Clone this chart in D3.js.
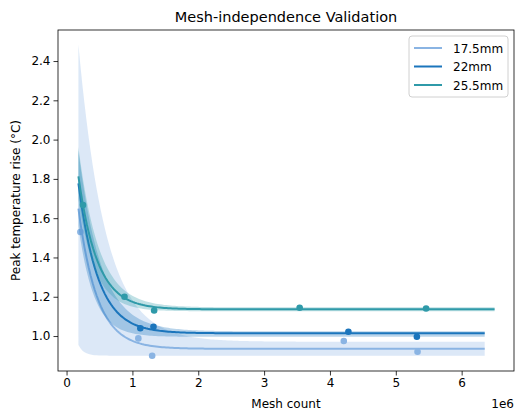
<!DOCTYPE html>
<html lang="en">
<head>
<meta charset="UTF-8">
<title>Mesh-independence Validation</title>
<script src="https://d3js.org/d3.v7.min.js"></script>
<style>
    body { margin: 0; background: white; }
    text { font-family: "DejaVu Sans", sans-serif; fill: #000; }
</style>
</head>
<body>
<script>
    // Series names and colours
    let seriesNames = ["17.5mm", "22mm", "25.5mm"];
    let colors = ["#8ab4e3", "#1b75bc", "#2f9aa9"];

    // Measured points (mesh count, peak rise)
    let meshLight = [210000, 1090000, 1300000, 4210000, 5330000];
    let riseLight = [1.53, 0.988, 0.90, 0.975, 0.92];
    let meshMid = [1120000, 1320000, 4280000, 5320000];
    let riseMid = [1.04, 1.047, 1.022, 0.996];
    let meshTeal = [250000, 880000, 1330000, 3540000, 5460000];
    let riseTeal = [1.667, 1.20, 1.13, 1.144, 1.14];

    // Fitted decay y = a*exp(-b*x/1e6) + c, and band edges
    let fitParams = [[1.34, 3.5, 0.935], [1.39, 3.33, 1.014], [1.27, 3.5, 1.136]];
    let upperParams = [[2.33, 2.4, 0.971], [1.55, 2.9, 1.024], [1.45, 3.2, 1.146]];
    let lowerParams = [[0.468, 12, 0.90], [1.2, 4.2, 0.996], [1.15, 3.9, 1.126]];
    let fitRange = [[180000, 6350000], [180000, 6350000], [180000, 6500000]];

    let xTicks = [0, 1, 2, 3, 4, 5, 6];
    let yTicks = [1.0, 1.2, 1.4, 1.6, 1.8, 2.0, 2.2, 2.4];

    let points = [
        d3.zip(meshLight, riseLight),
        d3.zip(meshMid, riseMid),
        d3.zip(meshTeal, riseTeal)
    ];

    let width = 516, height = 411;
    let m = {left: 58, right: 514, top: 30, bottom: 371};

    let svg = d3.select("body").append("svg")
        .attr("width", width)
        .attr("height", height);

    let x = d3.scaleLinear().domain([-130000, 6795000]).range([m.left, m.right]);
    let y = d3.scaleLinear().domain([0.822, 2.558]).range([m.bottom, m.top]);

    function model(p, v) {
        return p[0] * Math.exp(-p[1] * v / 1e6) + p[2];
    }

    svg.append("clipPath").attr("id", "plot")
        .append("rect")
        .attr("x", m.left).attr("y", m.top)
        .attr("width", m.right - m.left).attr("height", m.bottom - m.top);

    let plot = svg.append("g").attr("clip-path", "url(#plot)");

    seriesNames.forEach((name, i) => {
        let xs = d3.range(200).map(k => fitRange[i][0] + (fitRange[i][1] - fitRange[i][0]) * k / 199);

        plot.append("path")
            .datum(xs)
            .attr("fill", colors[i])
            .attr("fill-opacity", 0.3)
            .attr("d", d3.area()
                .x(d => x(d))
                .y0(d => y(model(lowerParams[i], d)))
                .y1(d => y(model(upperParams[i], d))));

        plot.append("path")
            .datum(xs)
            .attr("fill", "none")
            .attr("stroke", colors[i])
            .attr("stroke-width", 2)
            .attr("d", d3.line()
                .x(d => x(d))
                .y(d => y(model(fitParams[i], d))));

        plot.selectAll(null)
            .data(points[i])
            .enter().append("circle")
            .attr("cx", d => x(d[0]))
            .attr("cy", d => y(d[1]))
            .attr("r", 3.3)
            .attr("fill", colors[i]);
    });

    // Axes
    let xAxis = svg.append("g")
        .attr("transform", `translate(0,${m.bottom})`)
        .call(d3.axisBottom(x)
            .tickValues(xTicks.map(t => t * 1e6))
            .tickFormat(d => d / 1e6)
            .tickSize(4.5)
            .tickPadding(3));

    let yAxis = svg.append("g")
        .attr("transform", `translate(${m.left},0)`)
        .call(d3.axisLeft(y)
            .tickValues(yTicks)
            .tickFormat(d3.format(".1f"))
            .tickSize(4.5)
            .tickPadding(3));

    [xAxis, yAxis].forEach(a => {
        a.selectAll("text").style("font-size", "12px");
        a.select(".domain").remove();
        a.selectAll("line").attr("stroke", "#000").attr("stroke-width", 0.8);
    });

    svg.append("rect")
        .attr("x", m.left).attr("y", m.top)
        .attr("width", m.right - m.left).attr("height", m.bottom - m.top)
        .attr("fill", "none")
        .attr("stroke", "#000")
        .attr("stroke-width", 0.8);

    // Labels
    svg.append("text")
        .attr("x", (m.left + m.right) / 2).attr("y", 22)
        .attr("text-anchor", "middle")
        .style("font-size", "14.5px")
        .text("Mesh-independence Validation");

    svg.append("text")
        .attr("x", (m.left + m.right) / 2).attr("y", 408)
        .attr("text-anchor", "middle")
        .style("font-size", "12px")
        .text("Mesh count");

    svg.append("text")
        .attr("x", m.right).attr("y", 408)
        .attr("text-anchor", "end")
        .style("font-size", "12px")
        .text("1e6");

    svg.append("text")
        .attr("transform", `translate(20,${(m.top + m.bottom) / 2}) rotate(-90)`)
        .attr("text-anchor", "middle")
        .style("font-size", "12px")
        .text("Peak temperature rise (°C)");

    // Legend
    let legend = svg.append("g").attr("transform", "translate(409,36)");
    legend.append("rect")
        .attr("width", 99).attr("height", 61)
        .attr("rx", 3)
        .attr("fill", "white")
        .attr("fill-opacity", 0.8)
        .attr("stroke", "#d0d0d0");

    seriesNames.forEach((name, i) => {
        let row = legend.append("g").attr("transform", `translate(0,${12 + i * 18.5})`);
        row.append("line")
            .attr("x1", 5).attr("x2", 33)
            .attr("stroke", colors[i])
            .attr("stroke-width", 2);
        row.append("text")
            .attr("x", 44).attr("y", 4.5)
            .style("font-size", "12px")
            .text(name);
    });
</script>
</body>
</html>
